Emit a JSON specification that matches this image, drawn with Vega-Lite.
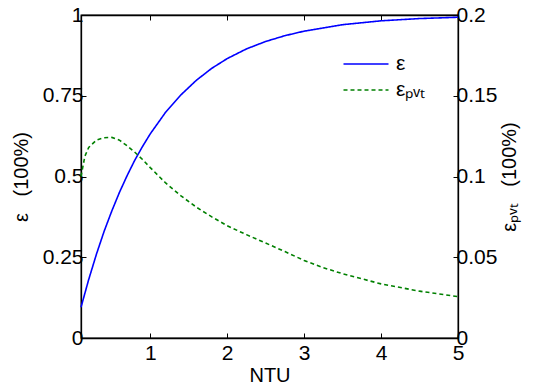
{
  "$schema": "https://vega.github.io/schema/vega-lite/v6.json",
  "width": 377,
  "height": 323,
  "autosize": {"type": "none"},
  "padding": {"left": 81, "top": 15, "right": 75, "bottom": 53},
  "background": "white",
  "config": {
    "font": "Liberation Sans",
    "view": {"stroke": "black", "strokeWidth": 1.3},
    "axis": {
      "domainColor": "black", "domainWidth": 1.3, "tickColor": "black", "tickWidth": 1,
      "labelColor": "black", "titleColor": "black",
      "labelFontSize": 21, "titleFontSize": 20, "titleFontWeight": "normal",
      "grid": false, "tickSize": -5, "labelFlush": false, "labelOverlap": false, "labelPadding": 3
    }
  },
  "datasets": {
    "eps": [
      {"NTU": 0.1, "eff": 0.095, "series": "ε"},
      {"NTU": 0.2, "eff": 0.181, "series": "ε"},
      {"NTU": 0.3, "eff": 0.259, "series": "ε"},
      {"NTU": 0.4, "eff": 0.330, "series": "ε"},
      {"NTU": 0.5, "eff": 0.393, "series": "ε"},
      {"NTU": 0.6, "eff": 0.451, "series": "ε"},
      {"NTU": 0.7, "eff": 0.503, "series": "ε"},
      {"NTU": 0.8, "eff": 0.551, "series": "ε"},
      {"NTU": 0.9, "eff": 0.593, "series": "ε"},
      {"NTU": 1.0, "eff": 0.632, "series": "ε"},
      {"NTU": 1.2, "eff": 0.699, "series": "ε"},
      {"NTU": 1.4, "eff": 0.753, "series": "ε"},
      {"NTU": 1.6, "eff": 0.798, "series": "ε"},
      {"NTU": 1.8, "eff": 0.835, "series": "ε"},
      {"NTU": 2.0, "eff": 0.865, "series": "ε"},
      {"NTU": 2.25, "eff": 0.895, "series": "ε"},
      {"NTU": 2.5, "eff": 0.918, "series": "ε"},
      {"NTU": 2.75, "eff": 0.936, "series": "ε"},
      {"NTU": 3.0, "eff": 0.950, "series": "ε"},
      {"NTU": 3.5, "eff": 0.970, "series": "ε"},
      {"NTU": 4.0, "eff": 0.982, "series": "ε"},
      {"NTU": 4.5, "eff": 0.989, "series": "ε"},
      {"NTU": 5.0, "eff": 0.993, "series": "ε"}
    ],
    "pvt": [
      {"NTU": 0.1, "eff": 0.100, "series": "εₚᵥₜ"},
      {"NTU": 0.15, "eff": 0.1125, "series": "εₚᵥₜ"},
      {"NTU": 0.2, "eff": 0.118, "series": "εₚᵥₜ"},
      {"NTU": 0.3, "eff": 0.1225, "series": "εₚᵥₜ"},
      {"NTU": 0.4, "eff": 0.124, "series": "εₚᵥₜ"},
      {"NTU": 0.5, "eff": 0.1242, "series": "εₚᵥₜ"},
      {"NTU": 0.6, "eff": 0.1225, "series": "εₚᵥₜ"},
      {"NTU": 0.7, "eff": 0.119, "series": "εₚᵥₜ"},
      {"NTU": 0.8, "eff": 0.115, "series": "εₚᵥₜ"},
      {"NTU": 0.9, "eff": 0.1105, "series": "εₚᵥₜ"},
      {"NTU": 1.0, "eff": 0.1055, "series": "εₚᵥₜ"},
      {"NTU": 1.2, "eff": 0.096, "series": "εₚᵥₜ"},
      {"NTU": 1.4, "eff": 0.088, "series": "εₚᵥₜ"},
      {"NTU": 1.6, "eff": 0.081, "series": "εₚᵥₜ"},
      {"NTU": 1.8, "eff": 0.075, "series": "εₚᵥₜ"},
      {"NTU": 2.0, "eff": 0.0695, "series": "εₚᵥₜ"},
      {"NTU": 2.25, "eff": 0.064, "series": "εₚᵥₜ"},
      {"NTU": 2.5, "eff": 0.0588, "series": "εₚᵥₜ"},
      {"NTU": 2.75, "eff": 0.0535, "series": "εₚᵥₜ"},
      {"NTU": 3.0, "eff": 0.048, "series": "εₚᵥₜ"},
      {"NTU": 3.25, "eff": 0.0435, "series": "εₚᵥₜ"},
      {"NTU": 3.5, "eff": 0.0398, "series": "εₚᵥₜ"},
      {"NTU": 4.0, "eff": 0.0335, "series": "εₚᵥₜ"},
      {"NTU": 4.5, "eff": 0.029, "series": "εₚᵥₜ"},
      {"NTU": 5.0, "eff": 0.0256, "series": "εₚᵥₜ"}
    ]
  },
  "layer": [
    {
      "data": {"name": "eps"},
      "mark": {"type": "line", "strokeWidth": 1.6},
      "encoding": {
        "x": {"field": "NTU", "type": "quantitative",
          "scale": {"domain": [0.1, 5], "nice": false, "zero": false},
          "axis": {"orient": "bottom", "values": [1, 2, 3, 4, 5], "title": "NTU", "labelPadding": 9, "titlePadding": 2}},
        "y": {"field": "eff", "type": "quantitative",
          "scale": {"domain": [0, 1], "nice": false},
          "axis": {"orient": "left", "values": [0, 0.25, 0.5, 0.75, 1], "format": ".2~f", "title": "ε\u00a0\u00a0\u00a0(100%)", "titlePadding": 11}},
        "color": {"field": "series", "type": "nominal",
          "scale": {"domain": ["ε", "εₚᵥₜ"], "range": ["#0000ff", "#008000"]},
          "legend": {"title": null, "orient": "none", "legendX": 269, "legendY": 33, "padding": 0,
            "symbolType": "M-1.5,0H1.5", "symbolSize": 900, "symbolStrokeWidth": 1.6,
            "labelFontSize": 21, "labelOffset": 14, "rowPadding": 0, "labelColor": "black"}},
        "strokeDash": {"field": "series", "type": "nominal",
          "scale": {"domain": ["ε", "εₚᵥₜ"], "range": [[1, 0], [4, 3]]},
          "legend": {"title": null, "orient": "none", "legendX": 269, "legendY": 33, "padding": 0,
            "symbolType": "M-1.5,0H1.5", "symbolSize": 900, "symbolStrokeWidth": 1.6,
            "labelFontSize": 21, "labelOffset": 14, "rowPadding": 0, "labelColor": "black"}}
      }
    },
    {
      "data": {"name": "pvt"},
      "mark": {"type": "line", "strokeWidth": 1.6},
      "encoding": {
        "x": {"field": "NTU", "type": "quantitative",
          "scale": {"domain": [0.1, 5], "nice": false, "zero": false},
          "axis": {"orient": "top", "values": [1, 2, 3, 4, 5], "labels": false, "title": null}},
        "y": {"field": "eff", "type": "quantitative",
          "scale": {"domain": [0, 0.2], "nice": false},
          "axis": {"orient": "right", "values": [0, 0.05, 0.1, 0.15, 0.2], "format": ".2~f", "title": "εₚᵥₜ\u00a0\u00a0\u00a0(100%)", "titleAngle": -90, "titlePadding": 23}},
        "color": {"field": "series", "type": "nominal",
          "scale": {"domain": ["ε", "εₚᵥₜ"], "range": ["#0000ff", "#008000"]}},
        "strokeDash": {"field": "series", "type": "nominal",
          "scale": {"domain": ["ε", "εₚᵥₜ"], "range": [[1, 0], [4, 3]]}}
      }
    }
  ],
  "resolve": {"scale": {"y": "independent"}, "axis": {"x": "independent"}}
}
